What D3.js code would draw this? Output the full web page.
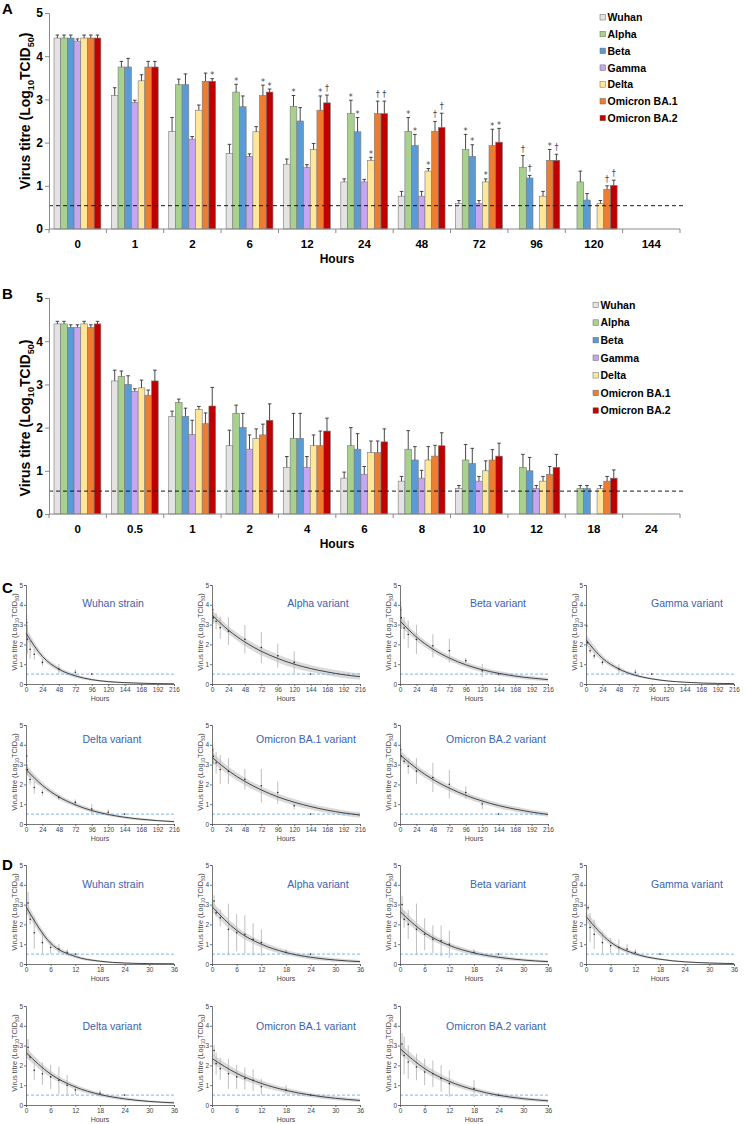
<!DOCTYPE html>
<html><head><meta charset="utf-8">
<script src="https://cdn.jsdelivr.net/npm/d3@7"></script>
<style>body{margin:0;background:#fff} text{font-family:"Liberation Sans",Arial,sans-serif}</style>
</head><body><svg id="c" width="746" height="1124"></svg>
<script>
// ---------------- data ----------------
const seriesNames = ["Wuhan","Alpha","Beta","Gamma","Delta","Omicron BA.1","Omicron BA.2"];
const seriesColors = ["#e3e3e3","#a9d18e","#5b9bd5","#c6a6f2","#ffe699","#ed7d31","#c00000"];
const plasticHours = ["0","1","2","6","12","24","48","72","96","120","144"];
const skinHours = ["0","0.5","1","2","4","6","8","10","12","18","24"];

// Panel A (plastic) mean titres, one row per strain
const plasticMean = [
  [4.42,3.09,2.26,1.75,1.50,1.09,0.76,0.59,null,null,null],
  [4.42,3.75,3.34,3.17,2.84,2.67,2.26,1.84,1.43,1.09,null],
  [4.42,3.75,3.34,2.83,2.50,2.25,1.93,1.68,1.18,0.67,null],
  [4.35,2.93,2.08,1.68,1.42,1.09,0.76,0.59,null,null,null],
  [4.42,3.43,2.75,2.25,1.84,1.59,1.34,1.09,0.76,0.59,null],
  [4.42,3.75,3.42,3.09,2.75,2.67,2.26,1.93,1.59,0.92,null],
  [4.42,3.75,3.42,3.17,2.92,2.67,2.35,2.01,1.59,1.01,null]
];
const plasticSem = [
  [0.07,0.18,0.32,0.21,0.12,0.07,0.11,0.07,null,null,null],
  [0.07,0.13,0.13,0.18,0.25,0.31,0.32,0.35,0.27,0.25,null],
  [0.07,0.20,0.25,0.25,0.31,0.33,0.26,0.27,0.06,0.15,null],
  [0.05,0.05,0.06,0.06,0.07,0.06,0.11,0.07,null,null,null],
  [0.07,0.14,0.12,0.12,0.14,0.07,0.06,0.07,0.11,0.07,null],
  [0.07,0.13,0.19,0.24,0.33,0.29,0.23,0.38,0.25,0.08,null],
  [0.07,0.13,0.06,0.07,0.18,0.29,0.33,0.32,0.14,0.12,null]
];
// significance marks: [time index, strain index, symbol]
const plasticMarks = [
  [2,6,"*"],[3,1,"*"],[3,5,"*"],[3,6,"*"],[4,1,"*"],[4,5,"*"],[4,6,"†"],
  [5,1,"*"],[5,2,"*"],[5,4,"*"],[5,5,"†"],[5,6,"†"],
  [6,1,"*"],[6,2,"*"],[6,4,"*"],[6,5,"†"],[6,6,"†"],
  [7,1,"*"],[7,2,"*"],[7,4,"*"],[7,5,"*"],[7,6,"*"],
  [8,1,"†"],[8,2,"†"],[8,5,"*"],[8,6,"†"],[9,5,"†"],[9,6,"†"]
];
// Panel B (skin)
const skinMean = [
  [4.40,3.08,2.26,1.58,1.08,0.83,0.76,0.59,null,null,null],
  [4.40,3.18,2.58,2.33,1.75,1.58,1.50,1.25,1.08,0.59,null],
  [4.32,3.00,2.26,2.00,1.75,1.50,1.25,1.17,1.00,0.59,null],
  [4.32,2.84,1.84,1.50,1.08,0.92,0.83,0.76,0.59,null,null],
  [4.40,2.92,2.42,1.75,1.58,1.42,1.25,1.00,0.76,0.59,null],
  [4.32,2.75,2.09,1.83,1.58,1.42,1.34,1.25,0.92,0.76,null],
  [4.40,3.08,2.50,2.17,1.92,1.67,1.58,1.34,1.08,0.83,null]
];
const skinSem = [
  [0.06,0.25,0.12,0.36,0.25,0.14,0.11,0.07,null,null,null],
  [0.06,0.13,0.08,0.19,0.58,0.42,0.43,0.36,0.30,0.07,null],
  [0.06,0.20,0.19,0.33,0.58,0.36,0.31,0.35,0.31,0.07,null],
  [0.06,0.06,0.33,0.33,0.25,0.18,0.18,0.11,0.07,null,null],
  [0.06,0.18,0.07,0.22,0.25,0.27,0.31,0.23,0.11,0.07,null],
  [0.06,0.12,0.25,0.25,0.34,0.27,0.25,0.24,0.18,0.11,null],
  [0.06,0.25,0.43,0.38,0.30,0.30,0.30,0.30,0.30,0.19,null]
];
const replicates = 5;
const detectionLimitA = 0.54, detectionLimitB = 0.53, detectionLimitFit = 0.5;

// Panels C & D: regression curves read at the axis ticks
const fitTitles = ["Wuhan strain","Alpha variant","Beta variant","Gamma variant","Delta variant","Omicron BA.1 variant","Omicron BA.2 variant"];
const plasticFitTicks = [0,24,48,72,96,120,144,168,192,216];
const skinFitTicks = [0,6,12,18,24,30,36];
const plasticFit = [
  [2.57,1.39,0.75,0.41,0.22,0.12,0.07,0.04,0.02,0.01],
  [3.49,2.72,2.12,1.65,1.29,1.00,0.78,0.61,0.47,0.37],
  [3.19,2.37,1.76,1.31,0.97,0.72,0.54,0.40,0.30,0.22],
  [2.23,1.30,0.76,0.44,0.26,0.15,0.09,0.05,0.03,0.02],
  [2.76,1.95,1.37,0.97,0.68,0.48,0.34,0.24,0.17,0.12],
  [3.37,2.69,2.15,1.72,1.37,1.10,0.88,0.70,0.56,0.45],
  [3.50,2.81,2.25,1.81,1.45,1.16,0.93,0.75,0.60,0.48]
];
const plasticBand = [
  [0.30,0.15,0.12,0.09,0.06,0.04,0.03,0.02,0.01,0.01],
  [0.25,0.20,0.20,0.20,0.20,0.19,0.18,0.17,0.17,0.16],
  [0.25,0.18,0.16,0.15,0.14,0.13,0.12,0.11,0.10,0.09],
  [0.28,0.15,0.11,0.08,0.05,0.03,0.02,0.01,0.01,0.01],
  [0.25,0.16,0.13,0.11,0.10,0.08,0.07,0.06,0.05,0.04],
  [0.28,0.20,0.19,0.18,0.17,0.16,0.15,0.15,0.14,0.14],
  [0.25,0.18,0.17,0.16,0.15,0.14,0.13,0.13,0.12,0.12]
];
const skinFit = [
  [2.90,1.05,0.38,0.14,0.05,0.02,0.01],
  [2.90,1.70,1.00,0.58,0.34,0.20,0.12],
  [2.65,1.58,0.94,0.56,0.34,0.20,0.12],
  [2.40,1.10,0.51,0.24,0.11,0.05,0.02],
  [2.65,1.56,0.91,0.53,0.31,0.18,0.11],
  [2.35,1.60,1.09,0.74,0.50,0.34,0.23],
  [2.85,1.84,1.19,0.77,0.49,0.32,0.21]
];
const skinBand = [
  [0.30,0.15,0.09,0.05,0.03,0.01,0.01],
  [0.28,0.20,0.16,0.13,0.11,0.09,0.08],
  [0.28,0.18,0.15,0.12,0.10,0.08,0.07],
  [0.28,0.14,0.09,0.05,0.03,0.02,0.01],
  [0.25,0.17,0.13,0.10,0.08,0.06,0.05],
  [0.25,0.18,0.15,0.13,0.11,0.10,0.09],
  [0.28,0.20,0.16,0.13,0.11,0.09,0.08]
];

// ---------------- drawing ----------------
const svg = d3.select("#c");
svg.append("rect").attr("width",746).attr("height",1124).attr("fill","#fff");

function yTitle(g, x, y, size, weight, fill) {
  const t = g.append("text").attr("transform",`translate(${x},${y}) rotate(-90)`)
    .attr("text-anchor","middle").attr("font-size",size).attr("font-weight",weight).attr("fill",fill);
  t.append("tspan").text("Virus titre (Log");
  t.append("tspan").attr("font-size",size*0.65).attr("dy",size*0.28).text("10");
  t.append("tspan").attr("dy",-size*0.28).text("TCID");
  t.append("tspan").attr("font-size",size*0.65).attr("dy",size*0.28).text("50");
  t.append("tspan").attr("dy",-size*0.28).text(")");
}

function barPanel(cfg) {
  const g = svg.append("g");
  const x = d3.scaleBand().domain(cfg.labels).range([49,680]);
  const xi = d3.scaleBand().domain(d3.range(seriesNames.length)).range([5, x.bandwidth()-5.5]);
  const y = d3.scaleLinear().domain([0,5]).range([cfg.y0, cfg.y5]);
  cfg.mean.forEach((row, s) => {
    row.forEach((v, t) => {
      if (v == null) return;
      const bx = x(cfg.labels[t]) + xi(s), bw = xi.bandwidth();
      g.append("rect").attr("x",bx).attr("y",y(v)).attr("width",bw).attr("height",y(0)-y(v))
        .attr("fill",seriesColors[s]).attr("stroke","#7a7a7a").attr("stroke-width",0.6);
      const e = cfg.err[s][t];
      const cx = bx + bw/2;
      g.append("line").attr("x1",cx).attr("x2",cx).attr("y1",y(v)).attr("y2",y(v+e)).attr("stroke","#333").attr("stroke-width",0.9);
      g.append("line").attr("x1",cx-1.8).attr("x2",cx+1.8).attr("y1",y(v+e)).attr("y2",y(v+e)).attr("stroke","#333").attr("stroke-width",0.9);
    });
  });
  (cfg.marks||[]).forEach(([t,s,sym]) => {
    const v = cfg.mean[s][t] + cfg.err[s][t];
    const cx = x(cfg.labels[t]) + xi(s) + xi.bandwidth()/2;
    g.append("text").attr("x",cx).attr("y", y(v) - (sym==="*" ? 0.5 : 4)).attr("text-anchor","middle")
      .attr("font-size",8).attr("fill","#444").attr("stroke","none")
      .style("font-family","'DejaVu Sans', 'Liberation Sans', sans-serif").text(sym);
  });
  g.append("line").attr("x1",49).attr("x2",683).attr("y1",y(cfg.lod)).attr("y2",y(cfg.lod))
    .attr("stroke","#000").attr("stroke-width",0.9).attr("stroke-dasharray","4,3");
  const ya = g.append("g").attr("transform","translate(49,0)").call(d3.axisLeft(y).ticks(5).tickSize(4).tickPadding(2).tickFormat(d3.format("d")));
  ya.select(".domain").attr("stroke","#8a8a8a");
  ya.selectAll(".tick line").attr("stroke","#8a8a8a");
  ya.selectAll(".tick text").attr("font-size",12).attr("font-weight","bold").attr("fill","#000").attr("font-family","Liberation Sans, Arial, sans-serif");
  g.append("line").attr("x1",49).attr("x2",680).attr("y1",cfg.y0).attr("y2",cfg.y0).attr("stroke","#8a8a8a");
  const bounds = cfg.labels.map(l => x(l)).concat([680]);
  bounds.forEach(bx => g.append("line").attr("x1",bx).attr("x2",bx).attr("y1",cfg.y0).attr("y2",cfg.y0+4).attr("stroke","#8a8a8a"));
  cfg.labels.forEach(l => g.append("text").attr("x",x(l)+x.bandwidth()/2).attr("y",cfg.y0+18.5)
    .attr("text-anchor","middle").attr("font-size",11.5).attr("font-weight","bold").text(l));
  g.append("text").attr("x",337).attr("y",cfg.y0+33.5).attr("text-anchor","middle").attr("font-size",12).attr("font-weight","bold").text("Hours");
  yTitle(g, 30, cfg.ylabY, 14, "bold", "#000");
  g.append("text").attr("x",2).attr("y",cfg.letterY).attr("font-size",15).attr("font-weight","bold").text(cfg.letter);
  seriesNames.forEach((n,i) => {
    const cy = cfg.legY + i*cfg.legStep;
    g.append("rect").attr("x",cfg.legX).attr("y",cy-2.8).attr("width",5.5).attr("height",5.5)
      .attr("fill",seriesColors[i]).attr("stroke","#666").attr("stroke-width",0.5);
    g.append("text").attr("x",cfg.legX+7.5).attr("y",cy+3.8).attr("font-size",10.5).attr("font-weight","bold").text(n);
  });
}

barPanel({labels:plasticHours, mean:plasticMean, err:plasticSem, marks:plasticMarks, y0:229, y5:13, lod:detectionLimitA,
  legX:600, legY:17.3, legStep:16.8, letter:"A", letterY:14, ylabY:111});
barPanel({labels:skinHours, mean:skinMean, err:skinSem, marks:[], y0:514, y5:298, lod:detectionLimitB,
  legX:593, legY:305, legStep:17.6, letter:"B", letterY:299, ylabY:418});

function smallPanel(ax, ay0, k, fit, band, fitTicks, hours, mean, sem, xmax, titleDy) {
  const g = svg.append("g");
  const x = d3.scaleLinear().domain([0,xmax]).range([ax, ax+148]);
  const y = d3.scaleLinear().domain([0,5]).range([ay0, ay0-99]);
  const pts = fitTicks.map((t,i) => ({t, v:fit[i], b:band[i]}));
  g.append("path").datum(pts).attr("fill","#d6d6d6").attr("opacity",0.9)
    .attr("d", d3.area().x(d=>x(d.t)).y0(d=>y(Math.max(0,d.v-d.b))).y1(d=>y(d.v+d.b)).curve(d3.curveMonotoneX));
  g.append("line").attr("x1",ax).attr("x2",ax+148).attr("y1",y(detectionLimitFit)).attr("y2",y(detectionLimitFit))
    .attr("stroke","#7fb4e8").attr("stroke-width",1).attr("stroke-dasharray","3,2");
  let prevValid = false;
  hours.forEach((h,i) => {
    if (i === 0) return;
    const t = +h, v = mean[i];
    if (v == null) {
      if (prevValid) g.append("circle").attr("cx",x(t)).attr("cy",y(detectionLimitFit)).attr("r",0.8).attr("fill","#222");
      prevValid = false; return;
    }
    prevValid = true;
    const sd = sem[i]*Math.sqrt(replicates);
    g.append("line").attr("x1",x(t)).attr("x2",x(t)).attr("y1",y(Math.max(0,v-sd))).attr("y2",y(v+sd)).attr("stroke","#b8b8b8").attr("stroke-width",0.9);
    g.append("circle").attr("cx",x(t)).attr("cy",y(v)).attr("r",0.8).attr("fill","#222");
  });
  g.append("path").datum(pts).attr("fill","none").attr("stroke","#333").attr("stroke-width",0.9)
    .attr("d", d3.line().x(d=>x(d.t)).y(d=>y(d.v)).curve(d3.curveMonotoneX));
  const xa = g.append("g").attr("transform",`translate(0,${ay0})`).call(d3.axisBottom(x).tickValues(fitTicks).tickSize(2).tickPadding(1));
  const ya = g.append("g").attr("transform",`translate(${ax},0)`).call(d3.axisLeft(y).ticks(5).tickSize(2).tickPadding(1).tickFormat(d3.format("d")));
  [xa,ya].forEach(a => {
    a.select(".domain").attr("stroke","#555").attr("stroke-width",0.8);
    a.selectAll(".tick line").attr("stroke","#555").attr("stroke-width",0.8);
    a.selectAll(".tick text").attr("font-size",6.5).attr("fill","#444").attr("font-family","Liberation Sans, Arial, sans-serif");
  });
  g.append("text").attr("x",ax+74).attr("y",ay0+16.5).attr("text-anchor","middle").attr("font-size",7).attr("fill","#444").text("Hours");
  yTitle(g, ax-9, ay0-52, 7.3, "normal", "#444");
  const titleDx = [87,106,98,101,86,94,96][k];
  g.append("text").attr("x",ax+titleDx).attr("y",ay0-99+titleDy+3.8).attr("text-anchor","middle")
    .attr("font-size",10.5).attr("fill","#3a62b0").text(fitTitles[k]);
}

const colX = [26,212,400,586];
for (let k=0;k<7;k++) {
  const r = Math.floor(k/4), c = k%4;
  smallPanel(colX[c], [684,824][r], k, plasticFit[k], plasticBand[k], plasticFitTicks, plasticHours, plasticMean[k], plasticSem[k], 216, [18,14.5][r]);
  smallPanel(colX[c], [964,1105][r], k, skinFit[k], skinBand[k], skinFitTicks, skinHours, skinMean[k], skinSem[k], 36, [19,20][r]);
}
svg.append("text").attr("x",2).attr("y",593).attr("font-size",15).attr("font-weight","bold").text("C");
svg.append("text").attr("x",2).attr("y",870).attr("font-size",15).attr("font-weight","bold").text("D");
</script></body></html>
